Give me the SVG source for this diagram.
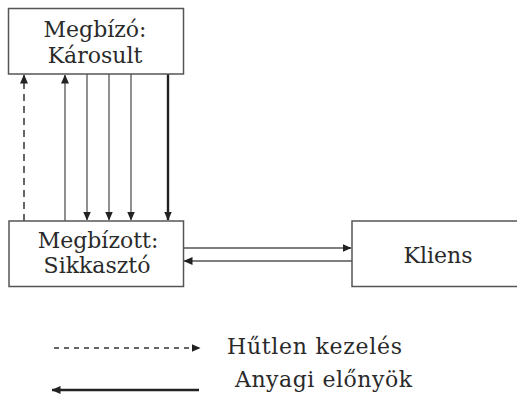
<svg xmlns="http://www.w3.org/2000/svg" width="517" height="403" viewBox="0 0 517 403">
<style>
.box{fill:#fff;stroke:#555;stroke-width:1.5}
.t{font-family:"DejaVu Serif","Liberation Serif",serif;font-size:22px;fill:#2a2a2a}
.thin{stroke:#555;stroke-width:1.3;fill:none}
.thick{stroke:#222;stroke-width:2.4;fill:none}
.dash{stroke:#333;stroke-width:1.5;fill:none;stroke-dasharray:7 5}
.ldash{stroke:#333;stroke-width:1.3;fill:none;stroke-dasharray:5 5}
</style>
<defs>
<marker id="ah" markerWidth="9" markerHeight="8" refX="8.5" refY="4" orient="auto" markerUnits="userSpaceOnUse">
<path d="M0,0 L9,4 L0,8 z" fill="#222"/>
</marker>
</defs>
<rect width="517" height="403" fill="#fff"/>
<g id="connectors">
<line class="dash" x1="24" y1="221" x2="24" y2="75" marker-end="url(#ah)"/>
<line class="thin" x1="65" y1="221" x2="65" y2="75" marker-end="url(#ah)"/>
<line class="thin" x1="87" y1="74" x2="87" y2="220" marker-end="url(#ah)"/>
<line class="thin" x1="109" y1="74" x2="109" y2="220" marker-end="url(#ah)"/>
<line class="thin" x1="131" y1="74" x2="131" y2="220" marker-end="url(#ah)"/>
<line class="thick" x1="168" y1="74" x2="168" y2="220" marker-end="url(#ah)"/>
<line class="thin" x1="183" y1="248" x2="351" y2="248" marker-end="url(#ah)"/>
<line class="thin" x1="352" y1="261" x2="184" y2="261" marker-end="url(#ah)"/>
</g>
<g id="megbizo">
<rect class="box" x="8.5" y="8.5" width="175" height="65.5"/>
<text class="t" x="95" y="37" text-anchor="middle">Megbízó:</text>
<text class="t" x="95" y="63" text-anchor="middle">Károsult</text>
</g>
<g id="megbizott">
<rect class="box" x="9" y="221" width="174.5" height="65.5"/>
<text class="t" x="98" y="248" text-anchor="middle">Megbízott:</text>
<text class="t" x="97" y="273" text-anchor="middle">Sikkasztó</text>
</g>
<g id="kliens">
<rect class="box" x="352" y="221" width="170" height="65.5"/>
<text class="t" x="438" y="263" text-anchor="middle">Kliens</text>
</g>
<g id="legend">
<line class="ldash" x1="54" y1="348" x2="200" y2="348" marker-end="url(#ah)"/>
<text class="t" x="227" y="354" textLength="175" lengthAdjust="spacing">Hűtlen kezelés</text>
<line class="thick" x1="199" y1="390" x2="52" y2="390" marker-end="url(#ah)"/>
<text class="t" x="235" y="387" textLength="177" lengthAdjust="spacing">Anyagi előnyök</text>
</g>
</svg>
